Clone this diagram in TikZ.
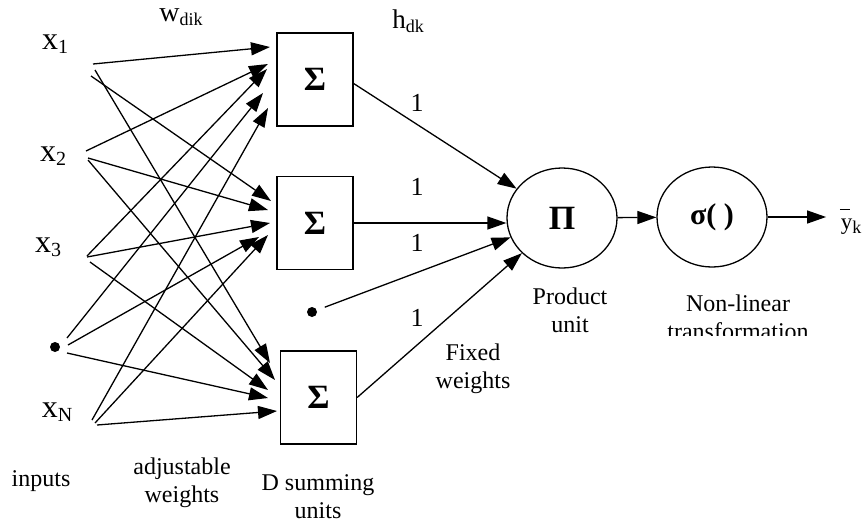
\documentclass[tikz,border=0pt]{standalone}
\usepackage{fontspec}
\setmainfont{Liberation Serif}
\usetikzlibrary{arrows.meta,shapes.geometric,calc}
\newcommand\lsub[1]{\raisebox{-0.3ex}{\fontsize{20}{20}\selectfont #1}}
\newcommand\ssub[1]{\raisebox{-0.3ex}{\fontsize{18}{18}\selectfont #1}}
\begin{document}
\begin{tikzpicture}[x=1pt,y=-1pt,line width=1.3pt,
  >={Triangle[length=19pt,width=13pt]},
  sumbox/.style={draw,minimum width=76pt,minimum height=93pt,inner sep=0pt,
    font=\bfseries\fontsize{34}{34}\selectfont},
  unitnode/.style={draw,ellipse,minimum width=110pt,minimum height=100pt,inner sep=0pt,
    font=\bfseries\fontsize{34}{34}\selectfont},
  inlab/.style={inner sep=0pt,font=\fontsize{32}{32}\selectfont},
  lab/.style={inner sep=0pt,align=center,font=\fontsize{24}{28}\selectfont},
  onelab/.style={inner sep=0pt,font=\fontsize{26}{26}\selectfont},
  dotnode/.style={circle,fill,inner sep=0pt,minimum size=10pt}]
\useasboundingbox (0,0) rectangle (864,525);

% summing boxes
\node[sumbox] (b1) at (315,79.5) {Σ};
\node[sumbox] (b2) at (315,223) {Σ};
\node[sumbox] (b3) at (318.5,397.5) {Σ};

% product and sigmoid units
\node[unitnode] (pi) at (562,218) {Π};
\node[unitnode,font=\bfseries\fontsize{30}{30}\selectfont] (sg) at (712,217) {σ( )};
\node[inner sep=0pt,font=\fontsize{23}{23}\selectfont] (yk) at (851,222)
  {\rlap{\kern-1pt\rule[0.86em]{10pt}{0.9pt}}y\ssub{k}};

% inputs
\node[inlab] (x1) at (55,44) {x\lsub{1}};
\node[inlab] (x2) at (53,156) {x\lsub{2}};
\node[inlab] (x3) at (48,247) {x\lsub{3}};
\node[dotnode] (d1) at (55,347) {};
\node[inlab] (xN) at (57,412) {x\lsub{N}};
\node[dotnode] (d2) at (312,312) {};

% start points
\coordinate (i1a) at (93,64);  \coordinate (i1b) at (95,70);  \coordinate (i1c) at (91,76);
\coordinate (i2a) at (86,151); \coordinate (i2b) at (88,158); \coordinate (i2c) at (88,160);
\coordinate (i3a) at (87,256); \coordinate (i3b) at (87,257); \coordinate (i3c) at (90,262);
\coordinate (i4a) at (67,338); \coordinate (i4b) at (68,345); \coordinate (i4c) at (67,353);
\coordinate (i5a) at (92,420); \coordinate (i5b) at (95,423); \coordinate (i5c) at (97,425);

% arrow tips at boxes
\coordinate (t11) at (270,47);  \coordinate (t21) at (268,64);  \coordinate (t31) at (267,69);
\coordinate (t41) at (263,93);  \coordinate (t51) at (268,108);
\coordinate (t12) at (271,201); \coordinate (t22) at (268,210); \coordinate (t32) at (270,223);
\coordinate (t42) at (259,237); \coordinate (t52) at (268,235);
\coordinate (t13) at (270,363); \coordinate (t23) at (275,380); \coordinate (t33) at (268,390);
\coordinate (t43) at (268,398); \coordinate (t53) at (277,411);

\foreach \s/\t in {i1a/t11,i1c/t12,i1b/t13,
                   i2a/t21,i2b/t22,i2c/t23,
                   i3a/t31,i3b/t32,i3c/t33,
                   i4a/t41,i4b/t42,i4c/t43,
                   i5a/t51,i5b/t52,i5c/t53}
  \draw[->] (\s) -- (\t);

% to product unit
\draw[->] ($(b1.east)+(0,4)$) -- (pi);
\draw[->] (b2.east) -- (b2.east -| pi.west);
\draw[->,shorten <=8pt] (d2) -- (pi);
\draw[->] (b3.east) -- (pi);
\draw[->] (pi) -- (sg);
\draw[->,shorten >=14pt] (sg.east) -- (sg.east -| yk.west);

% weight labels
\node[onelab] (l1) at (417,103) {1};
\node[onelab] (l2) at (417,187) {1};
\node[onelab] (l3) at (417,243) {1};
\node[onelab] (l4) at (417,318) {1};

\node[inner sep=0pt,font=\fontsize{28}{28}\selectfont] (w) at (181,17) {w\ssub{dik}};
\node[inner sep=0pt,font=\fontsize{27}{27}\selectfont] (h) at (408,21) {h\ssub{dk}};

% captions
\node[lab] (cprod) at (570,310) {Product\\unit};
\begin{scope}
\clip (600,280) rectangle (864,335);
\node[lab] (cnl) at (738,317) {Non-linear\\transformation};
\end{scope}
\node[lab] (cfix) at (473,369) {Fixed\\weights};
\node[lab] (cin) at (41,481) {inputs};
\node[lab] (cadj) at (182,483) {adjustable\\weights};
\node[lab] (csum) at (318,497) {D summing\\units};
\end{tikzpicture}
\end{document}
